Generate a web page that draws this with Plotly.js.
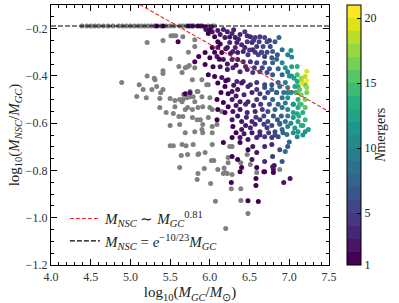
<!DOCTYPE html>
<html><head><meta charset="utf-8">
<script src="https://cdn.plot.ly/plotly-3.0.1.min.js"></script>
<style>body{margin:0;padding:0;background:#fff}#chart{width:399px;height:303px}</style>
</head><body><div id="chart"></div>
<script>
// clusters that had no mergers (gray), lying on the upper limit line
const grayLineX = [4.39,4.45,4.50,4.55,4.60,4.66,4.72,4.78,4.85,4.90,4.95,5.00,5.05,5.10,5.14,5.18,5.22,5.26,5.30,5.38,5.45,5.50,5.55,5.62,5.66,5.70,5.76,5.80,5.88,5.98,6.03,6.06];
const grayLineY = grayLineX.map(() => -0.189);
// clusters that had no mergers (gray), off the line
const grayX = [5.21,5.41,5.51,5.57,5.66,5.50,5.73,5.81,5.61,5.69,5.74,5.81,5.41,5.41,5.65,5.78,5.21,5.30,4.89,5.11,5.16,5.27,5.33,5.38,5.08,5.20,5.37,5.50,5.56,5.62,5.67,5.79,5.65,5.37,5.45,5.54,5.61,5.69,5.78,5.85,5.50,5.69,5.81,5.50,5.54,5.70,5.79,5.64,5.62,5.86,5.94,6.02,6.05,6.18,6.17,6.22,6.28,5.85,5.84,5.93,6.01,6.07,6.20,6.27,6.39,6.39,6.48,6.59,6.51,6.39,6.23,6.88,5.54,5.81,5.31,5.41,5.72,5.90,5.96,5.66,5.75,5.56,5.84,6.03,6.15,5.66,5.84,5.91,6.03,6.09,5.62,5.91,6.03,5.65,6.03,6.28,5.75,5.85,5.98,5.71,5.81,5.90,6.00,5.72,5.91,6.00,5.78,5.88,5.98,5.90,5.72,5.85,6.25,6.23,6.47,6.10,6.19];
const grayY = [-0.259,-0.250,-0.230,-0.230,-0.234,-0.327,-0.300,-0.276,-0.360,-0.365,-0.356,-0.365,-0.378,-0.390,-0.386,-0.416,-0.400,-0.410,-0.428,-0.437,-0.458,-0.458,-0.445,-0.471,-0.487,-0.492,-0.496,-0.496,-0.504,-0.500,-0.479,-0.488,-0.509,-0.534,-0.555,-0.559,-0.572,-0.542,-0.542,-0.534,-0.610,-0.640,-0.636,-0.695,-0.695,-0.695,-0.690,-0.737,-0.788,-0.729,-0.724,-0.758,-0.758,-0.790,-0.813,-0.813,-0.817,-0.813,-0.838,-0.792,-0.855,-0.930,-1.046,-0.877,-0.877,-0.927,-0.982,-0.809,-0.775,-0.767,-0.767,-0.796,-0.230,-0.247,-0.416,-0.458,-0.361,-0.416,-0.437,-0.500,-0.488,-0.530,-0.585,-0.542,-0.551,-0.572,-0.466,-0.606,-0.614,-0.606,-0.606,-0.640,-0.640,-0.690,-0.690,-0.699,-0.466,-0.466,-0.437,-0.492,-0.509,-0.488,-0.492,-0.534,-0.530,-0.534,-0.576,-0.585,-0.576,-0.627,-0.733,-0.733,-0.699,-0.745,-0.733,-0.796,-0.809];
// clusters with mergers: mass, mass ratio, number of mergers
const mergX = [5.33,5.41,5.73,5.78,5.85,5.90,5.94,6.02,5.60,5.81,5.86,5.69,5.75,
5.95,5.98,6.03,6.06,6.10,6.17,6.22,6.28,6.32,6.38,6.44,6.51,6.57,6.63,6.69,6.87,
6.10,6.19,6.25,6.34,6.40,6.47,6.53,6.59,6.67,6.76,6.79,6.91,7.02,
6.03,6.10,6.15,6.22,6.29,6.35,6.42,6.48,6.54,6.61,6.69,6.78,6.85,
5.94,6.00,6.09,6.17,6.28,6.35,6.42,6.51,6.59,6.69,6.79,6.91,6.95,7.03,
5.94,6.04,6.13,6.22,6.29,6.38,6.47,6.54,6.63,6.72,6.79,6.91,6.98,7.10,7.20,7.20,
5.98,6.06,6.15,6.23,6.34,6.42,6.51,6.59,6.69,6.78,6.86,6.95,7.10,7.11,
6.19,6.28,6.35,6.48,6.59,6.69,6.78,6.88,6.98,7.07,7.13,7.22,
6.09,6.17,6.28,6.38,6.48,6.59,6.69,6.79,6.91,6.98,7.11,7.20,7.20,
6.10,6.19,6.29,6.38,6.47,6.57,6.66,6.73,6.82,6.91,6.98,7.11,7.17,
6.09,6.28,6.40,6.53,6.63,6.73,6.85,6.95,7.05,7.11,7.20,
6.29,6.40,6.51,6.63,6.72,6.82,6.91,6.98,7.11,7.24,
6.17,6.28,6.38,6.48,6.59,6.69,6.78,6.86,6.97,7.10,7.20,
6.38,6.48,6.54,6.69,6.78,6.88,6.98,
6.35,6.53,6.59,6.69,6.79,6.91,
6.40,6.59,6.69,6.79,
6.28,6.27,6.38,6.48,6.61,6.58,6.58,6.68,6.80,6.80,6.81,6.93,7.01,
7.22,7.22,7.22,7.10,7.10,7.10,7.03,7.03,7.05,6.98,6.98,7.13,7.17,7.15,7.00,6.95,6.88,6.84,6.75,6.65,
6.00,6.13,6.25,6.30,6.36,6.47,6.55,6.62,6.72,6.82,6.13,6.20,6.26,6.32,6.44,6.50,6.57,6.65,6.72,6.84,6.98,
6.06,6.12,6.22,6.33,6.45,6.56,6.66,6.75,6.86,7.00,7.06,7.15,7.16,7.08,7.15,7.02,6.93,6.84,6.73,6.63,6.53,6.43,6.33,6.23,6.14,
6.40,6.30,6.20,6.10,6.45,6.55,6.64,6.75,6.86,6.95,7.05,7.15,7.05,7.12,7.02,6.90,6.80,6.68,6.58,6.46,6.35,6.23,6.33,
6.45,6.57,6.68,6.78,6.88,7.07,7.15,7.17,7.05,6.92,6.82,6.74,6.63,6.53,6.43,6.33];
const mergY = [-0.189,-0.189,-0.189,-0.189,-0.189,-0.189,-0.192,-0.192,-0.255,-0.340,-0.318,-0.475,-0.471,
-0.204,-0.221,-0.213,-0.234,-0.208,-0.204,-0.213,-0.221,-0.238,-0.225,-0.213,-0.234,-0.238,-0.234,-0.238,-0.238,
-0.255,-0.238,-0.259,-0.259,-0.268,-0.255,-0.259,-0.276,-0.276,-0.276,-0.297,-0.289,-0.293,
-0.280,-0.280,-0.301,-0.280,-0.297,-0.301,-0.297,-0.310,-0.289,-0.310,-0.318,-0.323,-0.310,
-0.301,-0.323,-0.318,-0.331,-0.331,-0.331,-0.340,-0.340,-0.344,-0.344,-0.344,-0.344,-0.365,-0.361,
-0.352,-0.361,-0.361,-0.373,-0.365,-0.382,-0.373,-0.386,-0.382,-0.386,-0.395,-0.395,-0.382,-0.395,-0.403,-0.437,
-0.395,-0.403,-0.407,-0.416,-0.424,-0.424,-0.437,-0.428,-0.437,-0.437,-0.428,-0.428,-0.424,-0.445,
-0.445,-0.466,-0.458,-0.445,-0.458,-0.449,-0.458,-0.445,-0.449,-0.445,-0.458,-0.449,
-0.500,-0.513,-0.500,-0.509,-0.509,-0.500,-0.492,-0.500,-0.492,-0.492,-0.500,-0.500,-0.534,
-0.542,-0.555,-0.551,-0.542,-0.555,-0.551,-0.542,-0.551,-0.542,-0.534,-0.542,-0.534,-0.555,
-0.585,-0.585,-0.593,-0.593,-0.585,-0.593,-0.585,-0.593,-0.576,-0.593,-0.585,
-0.614,-0.627,-0.619,-0.636,-0.619,-0.636,-0.627,-0.614,-0.636,-0.627,
-0.682,-0.661,-0.661,-0.669,-0.661,-0.657,-0.661,-0.657,-0.648,-0.657,-0.636,
-0.682,-0.712,-0.699,-0.699,-0.690,-0.712,-0.699,
-0.754,-0.754,-0.724,-0.762,-0.741,-0.762,
-0.788,-0.788,-0.805,-0.784,
-0.741,-0.851,-0.805,-0.928,-0.931,-0.834,-0.864,-0.805,-0.796,-0.809,-0.779,-0.851,-0.834,
-0.380,-0.420,-0.470,-0.360,-0.470,-0.560,-0.320,-0.400,-0.520,-0.470,-0.570,-0.520,-0.610,-0.420,-0.680,-0.720,-0.600,-0.470,-0.250,-0.300,
-0.205,-0.225,-0.235,-0.205,-0.245,-0.230,-0.250,-0.255,-0.255,-0.255,-0.265,-0.285,-0.305,-0.280,-0.280,-0.290,-0.300,-0.300,-0.300,-0.330,-0.310,
-0.300,-0.330,-0.350,-0.355,-0.360,-0.365,-0.365,-0.370,-0.370,-0.400,-0.410,-0.410,-0.430,-0.470,-0.480,-0.470,-0.470,-0.470,-0.470,-0.475,-0.470,-0.480,-0.485,-0.475,-0.470,
-0.430,-0.440,-0.420,-0.430,-0.520,-0.525,-0.520,-0.520,-0.520,-0.515,-0.520,-0.520,-0.555,-0.570,-0.600,-0.570,-0.570,-0.570,-0.575,-0.575,-0.570,-0.530,-0.525,
-0.610,-0.605,-0.605,-0.610,-0.605,-0.620,-0.610,-0.650,-0.640,-0.640,-0.650,-0.640,-0.650,-0.640,-0.645,-0.640];
const mergN = [1,1,1,2,1,2,1,2,1,1,1,1,2,
2,1,2,1,2,3,2,3,2,3,4,3,4,4,5,7,
1,2,3,2,3,4,3,4,5,5,7,8,11,
1,2,1,2,3,2,3,4,3,5,4,6,6,
1,1,2,2,3,2,3,4,4,5,7,10,11,12,
1,1,2,2,3,3,3,4,5,5,6,7,9,14,18,15,
1,1,2,2,3,3,4,4,5,6,7,9,12,13,
1,2,2,3,4,5,7,8,11,12,15,17,
1,1,2,2,3,4,5,7,8,11,13,16,15,
1,1,2,2,3,3,4,5,7,8,10,12,13,
1,2,2,3,4,5,6,8,11,12,14,
1,2,3,3,4,5,7,9,11,12,
1,1,2,2,3,4,4,5,8,10,11,
1,1,2,3,3,5,6,
1,2,2,3,4,6,
1,1,2,3,
1,1,1,1,1,1,1,1,2,1,2,2,2,
19,20,16,13,15,12,10,12,9,9,9,14,12,16,7,8,6,5,4,3,
1,2,2,3,3,3,4,4,5,6,1,2,2,3,3,4,4,5,5,7,9,
1,1,2,2,3,4,5,6,7,10,12,17,19,14,16,10,8,7,5,4,3,3,2,1,1,
2,2,1,1,3,3,4,6,7,9,11,14,12,13,10,7,6,5,4,3,2,1,2,
2,3,4,5,7,11,13,11,10,7,5,4,3,2,2,1];
// fitted relations
const powerExponent = 0.81;       // M_NSC ~ M_GC^0.81
const powerIntercept = 0.874;     // normalisation of that relation in log space
const ratioExponent = -10 / 23;   // M_NSC = e^{-10/23} M_GC
const lineRange = [4.0, 7.5];
const cbTicks = [1, 5, 10, 15, 20];
const nMin = 1, nMax = 21;

// discrete viridis colorscale with 20 bands
const viridis = ['#440154','#481567','#482677','#453781','#3f4788','#39558c','#32648e','#2d718e','#287d8e','#238a8d','#1f968b','#20a386','#29af7f','#3dbc74','#56c667','#75d054','#95d840','#bade28','#dde318','#fde725'];
const cs = [];
const nb = viridis.length;
viridis.forEach((c, i) => { cs.push([i / nb, c]); cs.push([(i + 1) / nb, c]); });

const serif = 'Liberation Serif, Times New Roman, serif';
const traces = [
  {x: grayLineX.concat(grayX), y: grayLineY.concat(grayY), type: 'scatter', mode: 'markers',
   marker: {color: '#808080', size: 5}, showlegend: false, hoverinfo: 'skip'},
  {x: mergX, y: mergY, type: 'scatter', mode: 'markers', showlegend: false,
   marker: {color: mergN, colorscale: cs, cmin: nMin, cmax: nMax, size: 5,
     colorbar: {x: 1.065, xanchor: 'left', xpad: 0, y: 0, yanchor: 'bottom', len: 1, lenmode: 'fraction', ypad: 0,
       thickness: 14, outlinecolor: '#000', outlinewidth: 1, ticks: 'inside', ticklen: 4, tickcolor: '#000',
       tickvals: cbTicks, tickfont: {family: serif, size: 12, color: '#222'}}}},
  {x: lineRange, y: lineRange.map(v => (powerExponent - 1) * v + powerIntercept), type: 'scatter', mode: 'lines',
   line: {color: '#e8272a', dash: '4px,2px', width: 1.1},
   name: '<i>M<sub>NSC</sub></i> ∼ <i>M</i><sub><i>GC</i></sub><sup>0.81</sup>'},
  {x: lineRange, y: lineRange.map(() => ratioExponent * Math.LOG10E), type: 'scatter', mode: 'lines',
   line: {color: '#000', dash: '5px,2px', width: 1.2},
   name: '<i>M<sub>NSC</sub></i> = <i>e</i><sup>−10/23</sup><i>M<sub>GC</sub></i>'}
];
const axisCommon = {showline: true, linecolor: '#000', linewidth: 1.2, mirror: 'allticks', ticks: 'inside',
  ticklen: 6, tickcolor: '#000', showgrid: false, zeroline: false, tickformat: '.1f',
  tickfont: {family: serif, size: 12, color: '#333'}};
const layout = {
  width: 399, height: 303, margin: {l: 51, r: 70, t: 5, b: 38},
  paper_bgcolor: '#fff', plot_bgcolor: '#fff',
  xaxis: Object.assign({}, axisCommon, {range: [4.0, 7.5], dtick: 0.5, tick0: 4.0,
    minor: {ticks: 'inside', dtick: 0.1, ticklen: 3, tickcolor: '#000'},
    title: {text: 'log<sub>10</sub>(<i>M<sub>GC</sub></i>/<i>M</i><sub>⊙</sub>)', standoff: 4, font: {family: serif, size: 15, color: '#222'}}}),
  yaxis: Object.assign({}, axisCommon, {range: [-1.2, -0.1], dtick: 0.2, tick0: -1.2,
    minor: {ticks: 'inside', dtick: 0.05, ticklen: 3, tickcolor: '#000'},
    title: {text: 'log<sub>10</sub>(<i>M<sub>NSC</sub></i>/<i>M<sub>GC</sub></i>)', standoff: 2, font: {family: serif, size: 15, color: '#222'}}}),
  legend: {x: 0.05, y: 0.03, xanchor: 'left', yanchor: 'bottom', bgcolor: 'rgba(0,0,0,0)',
    font: {family: serif, size: 15, color: '#222'}, tracegroupgap: 0},
  annotations: [{text: '<i>N</i>mergers', xref: 'paper', yref: 'paper', x: 1.183, y: 0.5,
    xanchor: 'center', yanchor: 'middle', textangle: -90, showarrow: false,
    font: {family: serif, size: 14, color: '#222'}}],
  showlegend: true
};
Plotly.newPlot('chart', traces, layout, {staticPlot: true, displayModeBar: false});
</script></body></html>
